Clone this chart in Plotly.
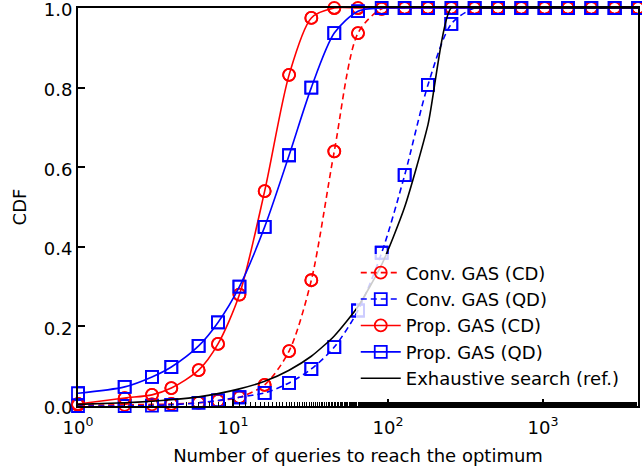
import plotly.graph_objects as go

# Query counts (x grid, powers of sqrt(2) rounded)
queries = [1, 2, 3, 4, 6, 8, 11, 16, 23, 32, 45, 64, 91, 128, 181, 256,
           362, 512, 724, 1024, 1448, 2048, 2896, 4096]

conv_cd = [0.002, 0.003, 0.004, 0.005, 0.008, 0.013, 0.022, 0.053, 0.138, 0.316,
           0.64, 0.937, 0.998, 1.0, 1.0, 1.0, 1.0, 1.0, 1.0, 1.0, 1.0, 1.0, 1.0, 1.0]
conv_qd = [0.0, 0.0, 0.001, 0.003, 0.008, 0.014, 0.022, 0.033, 0.058, 0.093,
           0.148, 0.24, 0.385, 0.58, 0.807, 0.96, 1.0, 1.0, 1.0, 1.0, 1.0, 1.0, 1.0, 1.0]
prop_cd = [0.005, 0.02, 0.028, 0.045, 0.09, 0.156, 0.28, 0.54, 0.832, 0.975,
           1.0, 1.0, 1.0, 1.0, 1.0, 1.0, 1.0, 1.0, 1.0, 1.0, 1.0, 1.0, 1.0, 1.0]
prop_qd = [0.032, 0.048, 0.073, 0.098, 0.151, 0.21, 0.30, 0.45, 0.63, 0.80,
           0.937, 0.992, 1.0, 1.0, 1.0, 1.0, 1.0, 1.0, 1.0, 1.0, 1.0, 1.0, 1.0, 1.0]
exhaustive = [0.004, 0.008, 0.012, 0.016, 0.023, 0.031, 0.043, 0.062, 0.09, 0.125,
              0.176, 0.25, 0.355, 0.5, 0.707, 1.0, 1.0, 1.0, 1.0, 1.0, 1.0, 1.0, 1.0, 1.0]

series_names = ["Conv. GAS (CD)", "Conv. GAS (QD)", "Prop. GAS (CD)",
                "Prop. GAS (QD)", "Exhaustive search (ref.)"]
x_tickvals = [1, 10, 100, 1000]
x_ticktext = ["10<sup>0</sup>", "10<sup>1</sup>", "10<sup>2</sup>", "10<sup>3</sup>"]
y_tickvals = [0.0, 0.2, 0.4, 0.6, 0.8, 1.0]
y_ticktext = ["0.0", "0.2", "0.4", "0.6", "0.8", "1.0"]

RED = "#ff0000"
BLUE = "#0000ff"
FONT = "DejaVu Sans"
FS = 18

fig = go.Figure()

styles = [
    (conv_cd, RED, "6px,4px", "circle-open"),
    (conv_qd, BLUE, "6px,4px", "square-open"),
    (prop_cd, RED, "solid", "circle-open"),
    (prop_qd, BLUE, "solid", "square-open"),
]
for i, (vals, col, dash, sym) in enumerate(styles):
    # line (clipped to plot area) + legend entry
    fig.add_trace(go.Scatter(
        x=queries, y=vals, name=series_names[i], legendgroup=str(i),
        mode="lines+markers",
        line=dict(color=col, width=1.6, dash=dash, shape="spline", smoothing=0.8),
        marker=dict(symbol=sym, size=12, color=col, line=dict(width=1.8, color=col)),
        cliponaxis=True,
    ))
    # markers drawn unclipped (as in reference)
    fig.add_trace(go.Scatter(
        x=queries, y=vals, name=series_names[i], legendgroup=str(i),
        mode="markers", showlegend=False, hoverinfo="skip",
        marker=dict(symbol=sym, size=12, color=col, line=dict(width=1.8, color=col)),
        cliponaxis=False,
    ))

fig.add_trace(go.Scatter(
    x=queries, y=exhaustive, name=series_names[4], legendgroup="4",
    mode="lines",
    line=dict(color="black", width=1.6, shape="spline", smoothing=0.6),
    cliponaxis=True,
))

fig.update_layout(
    width=642, height=470,
    margin=dict(l=78, r=4, t=8, b=64),
    paper_bgcolor="white", plot_bgcolor="white",
    font=dict(family=FONT, size=FS, color="black"),
    showlegend=True,
    legend=dict(
        x=0.496, y=0.024, xanchor="left", yanchor="bottom",
        bgcolor="rgba(255,255,255,0.8)", borderwidth=0,
        font=dict(family=FONT, size=FS, color="black"),
        tracegroupgap=0, itemwidth=40,
    ),
    xaxis=dict(
        type="log", range=[0, 3.6124], automargin=False,
        tickvals=x_tickvals, ticktext=x_ticktext,
        ticks="inside", ticklen=7, tickwidth=1.5, tickcolor="black",
        showline=True, linecolor="black", linewidth=1.8, mirror=True,
        showgrid=False, zeroline=False, ticklabeloverflow="allow",
        ticklabelstandoff=4,
        minor=dict(ticks="inside", ticklen=4, tickwidth=1, tickcolor="black", showgrid=False),
        title=dict(text="Number of queries to reach the optimum", font=dict(size=FS), standoff=13),
        tickfont=dict(size=FS),
    ),
    yaxis=dict(
        range=[0, 1.0], automargin=False,
        tickvals=y_tickvals, ticktext=y_ticktext,
        ticks="inside", ticklen=7, tickwidth=1.5, tickcolor="black",
        showline=True, linecolor="black", linewidth=1.8, mirror=True,
        showgrid=False, zeroline=False, ticklabeloverflow="allow",
        ticklabelshift=2,
        title=dict(text="CDF", font=dict(size=FS), standoff=13),
        tickfont=dict(size=FS),
    ),
)

fig.write_html("out.html")
